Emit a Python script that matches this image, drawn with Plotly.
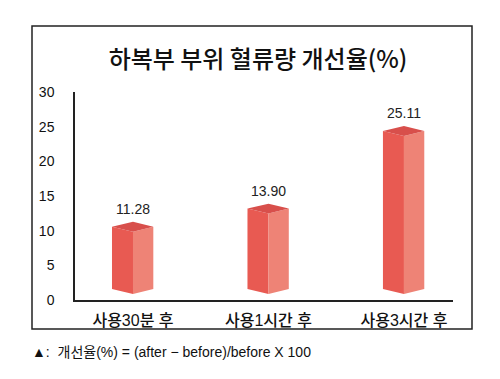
import plotly.graph_objects as go

categories = ["사용30분 후", "사용1시간 후", "사용3시간 후"]
values = [11.28, 13.90, 25.11]
value_labels = ["11.28", "13.90", "25.11"]
y_ticks = [0, 5, 10, 15, 20, 25, 30]

title = "하복부 부위 혈류량 개선율(%)"
footnote = "▲:  개선율(%) = (after − before)/before X 100"

FONT = "Liberation Sans, Arial, Noto Sans CJK KR, sans-serif"
MIXFONT = "Liberation Sans, Noto Sans CJK KR, sans-serif"
KFONT = "Noto Sans CJK KR, Liberation Sans, sans-serif"

C_LEFT = "#E85A52"
C_RIGHT = "#EE8376"
C_TOP = "#D84F4B"

HALF_L = 0.155
HALF_R = 0.15
D = 0.72
BASE = 1.6

fig = go.Figure()
xs = list(range(len(categories)))
for c, v in zip(xs, values):
    fig.add_trace(go.Scatter(
        x=[c - HALF_L, c, c, c - HALF_L, c - HALF_L],
        y=[v - D, v - 2 * D, BASE - D, BASE, v - D],
        fill="toself", fillcolor=C_LEFT, mode="lines", line=dict(width=0),
        hoverinfo="skip", showlegend=False))
    fig.add_trace(go.Scatter(
        x=[c, c + HALF_R, c + HALF_R, c, c],
        y=[v - 2 * D, v - D, BASE, BASE - D, v - 2 * D],
        fill="toself", fillcolor=C_RIGHT, mode="lines", line=dict(width=0),
        hoverinfo="skip", showlegend=False))
    fig.add_trace(go.Scatter(
        x=[c - HALF_L, c, c + HALF_R, c, c - HALF_L],
        y=[v - D, v, v - D, v - 2 * D, v - D],
        fill="toself", fillcolor=C_TOP, mode="lines", line=dict(width=0),
        hoverinfo="skip", showlegend=False))

annotations = [dict(x=c, y=v, xref="x", yref="y", text=t, showarrow=False,
                    yanchor="bottom", xanchor="center", yshift=3,
                    font=dict(size=14, color="#222", family=FONT))
               for c, v, t in zip(xs, values, value_labels)]
annotations.append(dict(text=footnote, xref="paper", yref="paper",
                        x=(30 - 75) / 378, y=(300 - 352) / 208, xanchor="left", yanchor="middle",
                        showarrow=False, font=dict(size=14, color="#111", family=MIXFONT)))

fig.update_layout(
    width=500, height=379,
    margin=dict(l=75, r=47, t=92, b=79),
    paper_bgcolor="white", plot_bgcolor="white",
    title=dict(text=title, x=0.516, xanchor="center", y=1 - 60 / 379, yanchor="middle",
               font=dict(size=24, color="#111", family=KFONT, weight=500)),
    xaxis=dict(range=[-0.428, 2.362], tickvals=xs, ticktext=categories,
               showgrid=False, zeroline=False, showline=True, linecolor="#222", linewidth=1.5,
               ticks="", ticklabelstandoff=5,
               tickfont=dict(size=16, color="#111", family=MIXFONT, weight=500)),
    yaxis=dict(range=[0, 30], tickvals=y_ticks, showgrid=False, zeroline=False,
               showline=True, linecolor="#222", linewidth=1.5, ticks="",
               ticklabelstandoff=16,
               tickfont=dict(size=14, color="#111", family=FONT)),
    shapes=[dict(type="rect", xref="paper", yref="paper",
                 x0=(32 - 75) / 378, x1=(472 - 75) / 378,
                 y0=(300 - 329) / 208, y1=(300 - 26) / 208,
                 line=dict(color="#222", width=1.5), fillcolor="rgba(0,0,0,0)", layer="below")],
    annotations=annotations,
)

fig.write_html("out.html", config={"displayModeBar": False},
               post_script="document.body.style.margin='0';")
